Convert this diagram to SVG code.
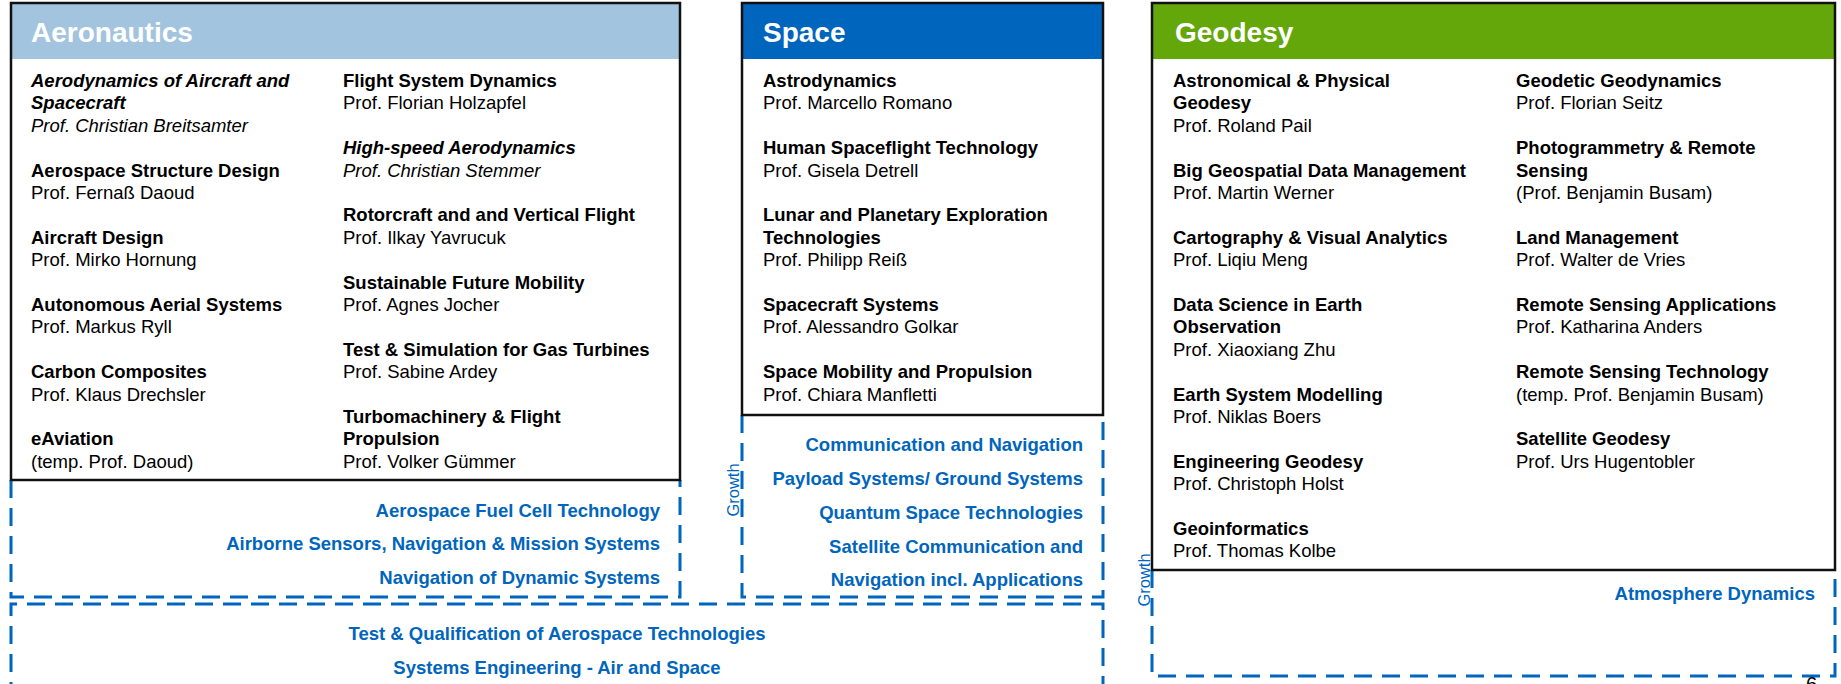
<svg xmlns="http://www.w3.org/2000/svg" width="1841" height="684" viewBox="0 0 1841 684">
<style>
text{font-family:"Liberation Sans",Arial,sans-serif;font-size:18.5px;fill:#000}
.b{font-weight:bold}
.bi{font-weight:bold;font-style:italic}
.i{font-style:italic}
.h{font-weight:bold;font-size:28px;fill:#fff}
.g{font-weight:bold;fill:#0065bd;text-anchor:end}
.gc{font-weight:bold;fill:#0065bd;text-anchor:middle}
.gr{font-size:16.5px;fill:#0065bd;text-anchor:middle;dominant-baseline:central}
.box{fill:none;stroke:#111;stroke-width:2.5}
.dash{fill:none;stroke:#0065bd;stroke-width:3;stroke-dasharray:18 10}
</style>
<rect width="1841" height="684" fill="#fff"/>

<g id="growth-regions">
  <path class="dash" d="M11,480 V597 H680 V480"/>
  <path class="dash" d="M742,415 V597 H1103 V415"/>
  <path class="dash" d="M11,700 V604 H1103 V700"/>
  <path class="dash" d="M1152,570 V676 H1835 V570"/>
</g>

<g id="aeronautics">
  <rect x="11" y="3" width="669" height="477" fill="#fff"/>
  <rect x="11" y="3" width="669" height="56" fill="#a2c4de"/>
  <rect class="box" x="11" y="3" width="669" height="477"/>
  <text class="h" x="31" y="42">Aeronautics</text>
  <text class="bi" x="31" y="87">Aerodynamics of Aircraft and</text>
  <text class="bi" x="31" y="109.4">Spacecraft</text>
  <text class="i" x="31" y="131.8">Prof. Christian Breitsamter</text>
  <text class="b" x="31" y="176.6">Aerospace Structure Design</text>
  <text x="31" y="199">Prof. Fernaß Daoud</text>
  <text class="b" x="31" y="243.8">Aircraft Design</text>
  <text x="31" y="266.2">Prof. Mirko Hornung</text>
  <text class="b" x="31" y="311">Autonomous Aerial Systems</text>
  <text x="31" y="333.4">Prof. Markus Ryll</text>
  <text class="b" x="31" y="378.2">Carbon Composites</text>
  <text x="31" y="400.6">Prof. Klaus Drechsler</text>
  <text class="b" x="31" y="445.4">eAviation</text>
  <text x="31" y="467.8">(temp. Prof. Daoud)</text>
  <text class="b" x="343" y="87">Flight System Dynamics</text>
  <text x="343" y="109.4">Prof. Florian Holzapfel</text>
  <text class="bi" x="343" y="154.2">High-speed Aerodynamics</text>
  <text class="i" x="343" y="176.6">Prof. Christian Stemmer</text>
  <text class="b" x="343" y="221.4">Rotorcraft and and Vertical Flight</text>
  <text x="343" y="243.8">Prof. Ilkay Yavrucuk</text>
  <text class="b" x="343" y="288.6">Sustainable Future Mobility</text>
  <text x="343" y="311">Prof. Agnes Jocher</text>
  <text class="b" x="343" y="355.8">Test &amp; Simulation for Gas Turbines</text>
  <text x="343" y="378.2">Prof. Sabine Ardey</text>
  <text class="b" x="343" y="423">Turbomachinery &amp; Flight</text>
  <text class="b" x="343" y="445.4">Propulsion</text>
  <text x="343" y="467.8">Prof. Volker Gümmer</text>
</g>

<g id="aeronautics-growth">
  <text class="g" x="660" y="516.5">Aerospace Fuel Cell Technology</text>
  <text class="g" x="660" y="550">Airborne Sensors, Navigation &amp; Mission Systems</text>
  <text class="g" x="660" y="583.5">Navigation of Dynamic Systems</text>
</g>

<g id="space">
  <rect x="742" y="3" width="361" height="412" fill="#fff"/>
  <rect x="742" y="3" width="361" height="56" fill="#0065bd"/>
  <rect class="box" x="742" y="3" width="361" height="412"/>
  <text class="h" x="763" y="42">Space</text>
  <text class="b" x="763" y="87">Astrodynamics</text>
  <text x="763" y="109.4">Prof. Marcello Romano</text>
  <text class="b" x="763" y="154.2">Human Spaceflight Technology</text>
  <text x="763" y="176.6">Prof. Gisela Detrell</text>
  <text class="b" x="763" y="221.4">Lunar and Planetary Exploration</text>
  <text class="b" x="763" y="243.8">Technologies</text>
  <text x="763" y="266.2">Prof. Philipp Reiß</text>
  <text class="b" x="763" y="311">Spacecraft Systems</text>
  <text x="763" y="333.4">Prof. Alessandro Golkar</text>
  <text class="b" x="763" y="378.2">Space Mobility and Propulsion</text>
  <text x="763" y="400.6">Prof. Chiara Manfletti</text>
</g>

<g id="space-growth">
  <text class="gr" transform="translate(733,490) rotate(-90)">Growth</text>
  <text class="g" x="1083" y="450.5">Communication and Navigation</text>
  <text class="g" x="1083" y="485">Payload Systems/ Ground Systems</text>
  <text class="g" x="1083" y="518.5">Quantum Space Technologies</text>
  <text class="g" x="1083" y="552.5">Satellite Communication and</text>
  <text class="g" x="1083" y="586">Navigation incl. Applications</text>
</g>

<g id="shared-growth">
  <text class="gc" x="557" y="639.5">Test &amp; Qualification of Aerospace Technologies</text>
  <text class="gc" x="557" y="673.5">Systems Engineering - Air and Space</text>
</g>

<g id="geodesy">
  <rect x="1152" y="3" width="683" height="567" fill="#fff"/>
  <rect x="1152" y="3" width="683" height="56" fill="#64a70b"/>
  <rect class="box" x="1152" y="3" width="683" height="567"/>
  <text class="h" x="1175" y="42">Geodesy</text>
  <text class="b" x="1173" y="87">Astronomical &amp; Physical</text>
  <text class="b" x="1173" y="109.4">Geodesy</text>
  <text x="1173" y="131.8">Prof. Roland Pail</text>
  <text class="b" x="1173" y="176.6">Big Geospatial Data Management</text>
  <text x="1173" y="199">Prof. Martin Werner</text>
  <text class="b" x="1173" y="243.8">Cartography &amp; Visual Analytics</text>
  <text x="1173" y="266.2">Prof. Liqiu Meng</text>
  <text class="b" x="1173" y="311">Data Science in Earth</text>
  <text class="b" x="1173" y="333.4">Observation</text>
  <text x="1173" y="355.8">Prof. Xiaoxiang Zhu</text>
  <text class="b" x="1173" y="400.6">Earth System Modelling</text>
  <text x="1173" y="423">Prof. Niklas Boers</text>
  <text class="b" x="1173" y="467.8">Engineering Geodesy</text>
  <text x="1173" y="490.2">Prof. Christoph Holst</text>
  <text class="b" x="1173" y="535">Geoinformatics</text>
  <text x="1173" y="557.4">Prof. Thomas Kolbe</text>
  <text class="b" x="1516" y="87">Geodetic Geodynamics</text>
  <text x="1516" y="109.4">Prof. Florian Seitz</text>
  <text class="b" x="1516" y="154.2">Photogrammetry &amp; Remote</text>
  <text class="b" x="1516" y="176.6">Sensing</text>
  <text x="1516" y="199">(Prof. Benjamin Busam)</text>
  <text class="b" x="1516" y="243.8">Land Management</text>
  <text x="1516" y="266.2">Prof. Walter de Vries</text>
  <text class="b" x="1516" y="311">Remote Sensing Applications</text>
  <text x="1516" y="333.4">Prof. Katharina Anders</text>
  <text class="b" x="1516" y="378.2">Remote Sensing Technology</text>
  <text x="1516" y="400.6">(temp. Prof. Benjamin Busam)</text>
  <text class="b" x="1516" y="445.4">Satellite Geodesy</text>
  <text x="1516" y="467.8">Prof. Urs Hugentobler</text>
</g>

<g id="geodesy-growth">
  <text class="gr" font-size="16" transform="translate(1144,580) rotate(-90)">Growth</text>
  <text class="g" x="1815" y="599.5">Atmosphere Dynamics</text>
</g>

<g id="page-number">
  <text x="1806" y="691" style="font-size:20px">6</text>
</g>
</svg>
